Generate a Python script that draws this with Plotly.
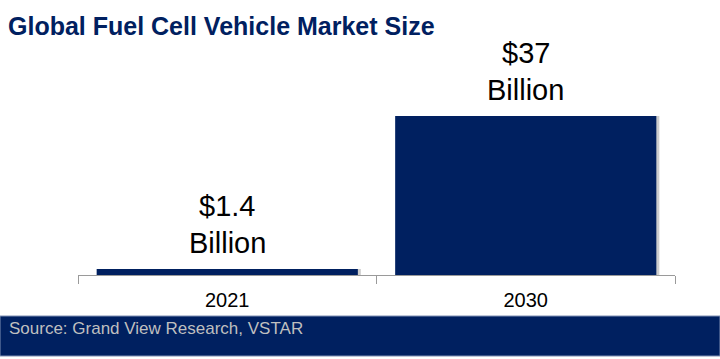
import plotly.graph_objects as go

categories = ["2021", "2030"]
values = [1.4, 37]
value_labels = ["$1.4", "$37"]
unit_label = "Billion"

title_text = "Global Fuel Cell Vehicle Market Size"
source_text = "Source: Grand View Research, VSTAR"

NAVY = "#002060"
BAR_W = 0.875
FONT = "Liberation Sans, Arial"

fig = go.Figure()
# soft drop shadow
fig.add_trace(go.Bar(
    x=categories, y=values, width=BAR_W, offset=-BAR_W / 2 + 0.01,
    marker=dict(color="rgba(90,90,90,0.3)", line=dict(width=0)),
    hoverinfo="skip", showlegend=False,
))
fig.add_trace(go.Bar(
    x=categories, y=values, width=BAR_W, offset=-BAR_W / 2,
    marker=dict(color=NAVY, line=dict(width=0)),
    showlegend=False,
))

annotations = []
for i, (v, lab) in enumerate(zip(values, value_labels)):
    annotations.append(dict(x=i, y=v, xref="x", yref="y", text=unit_label,
                            showarrow=False, yanchor="bottom", yshift=8,
                            font=dict(family=FONT, size=29, color="#000000")))
    annotations.append(dict(x=i, y=v, xref="x", yref="y", text=lab,
                            showarrow=False, yanchor="bottom", yshift=45,
                            font=dict(family=FONT, size=29, color="#000000")))

# footer text (paper coords relative to plot area: x 78..675, y 275..60)
annotations.append(dict(x=(7 - 78) / 597, y=(275 - 328) / 215,
                        xref="paper", yref="paper", text=source_text, showarrow=False,
                        xanchor="left", yanchor="middle",
                        font=dict(family=FONT, size=17, color="#bfbfbf")))

fig.update_layout(
    width=720, height=359,
    margin=dict(l=78, r=45, t=60, b=84),
    paper_bgcolor="white", plot_bgcolor="white",
    barmode="overlay",
    font=dict(family=FONT, color="#000000"),
    title=dict(text="<b>" + title_text + "</b>", xref="container", yref="container",
               x=8 / 720, y=1 - 26 / 359, xanchor="left", yanchor="middle",
               font=dict(family=FONT, size=25, color=NAVY)),
    annotations=annotations,
    xaxis=dict(
        type="category", categoryorder="array", categoryarray=categories,
        range=[-0.5, 1.5], showgrid=False, zeroline=False,
        showline=True, linecolor="#9a9a9a", linewidth=1,
        ticks="outside", tickson="boundaries", ticklen=8, tickcolor="#9a9a9a",
        tickangle=0, ticklabelstandoff=7,
        tickfont=dict(size=20, color="#000000", family=FONT),
    ),
    yaxis=dict(range=[0, 50], visible=False, showgrid=False, zeroline=False),
)

# footer band
fig.add_shape(type="rect", xref="paper", yref="paper",
              x0=-78 / 597, x1=(720 - 78) / 597,
              y0=(275 - 356) / 215, y1=(275 - 316) / 215,
              fillcolor=NAVY, line=dict(width=1, color="#7f8fb3"), layer="below")

fig.write_html("out.html", config={"displayModeBar": False},
               post_script="document.body.style.margin='0';document.body.style.overflow='hidden';")
